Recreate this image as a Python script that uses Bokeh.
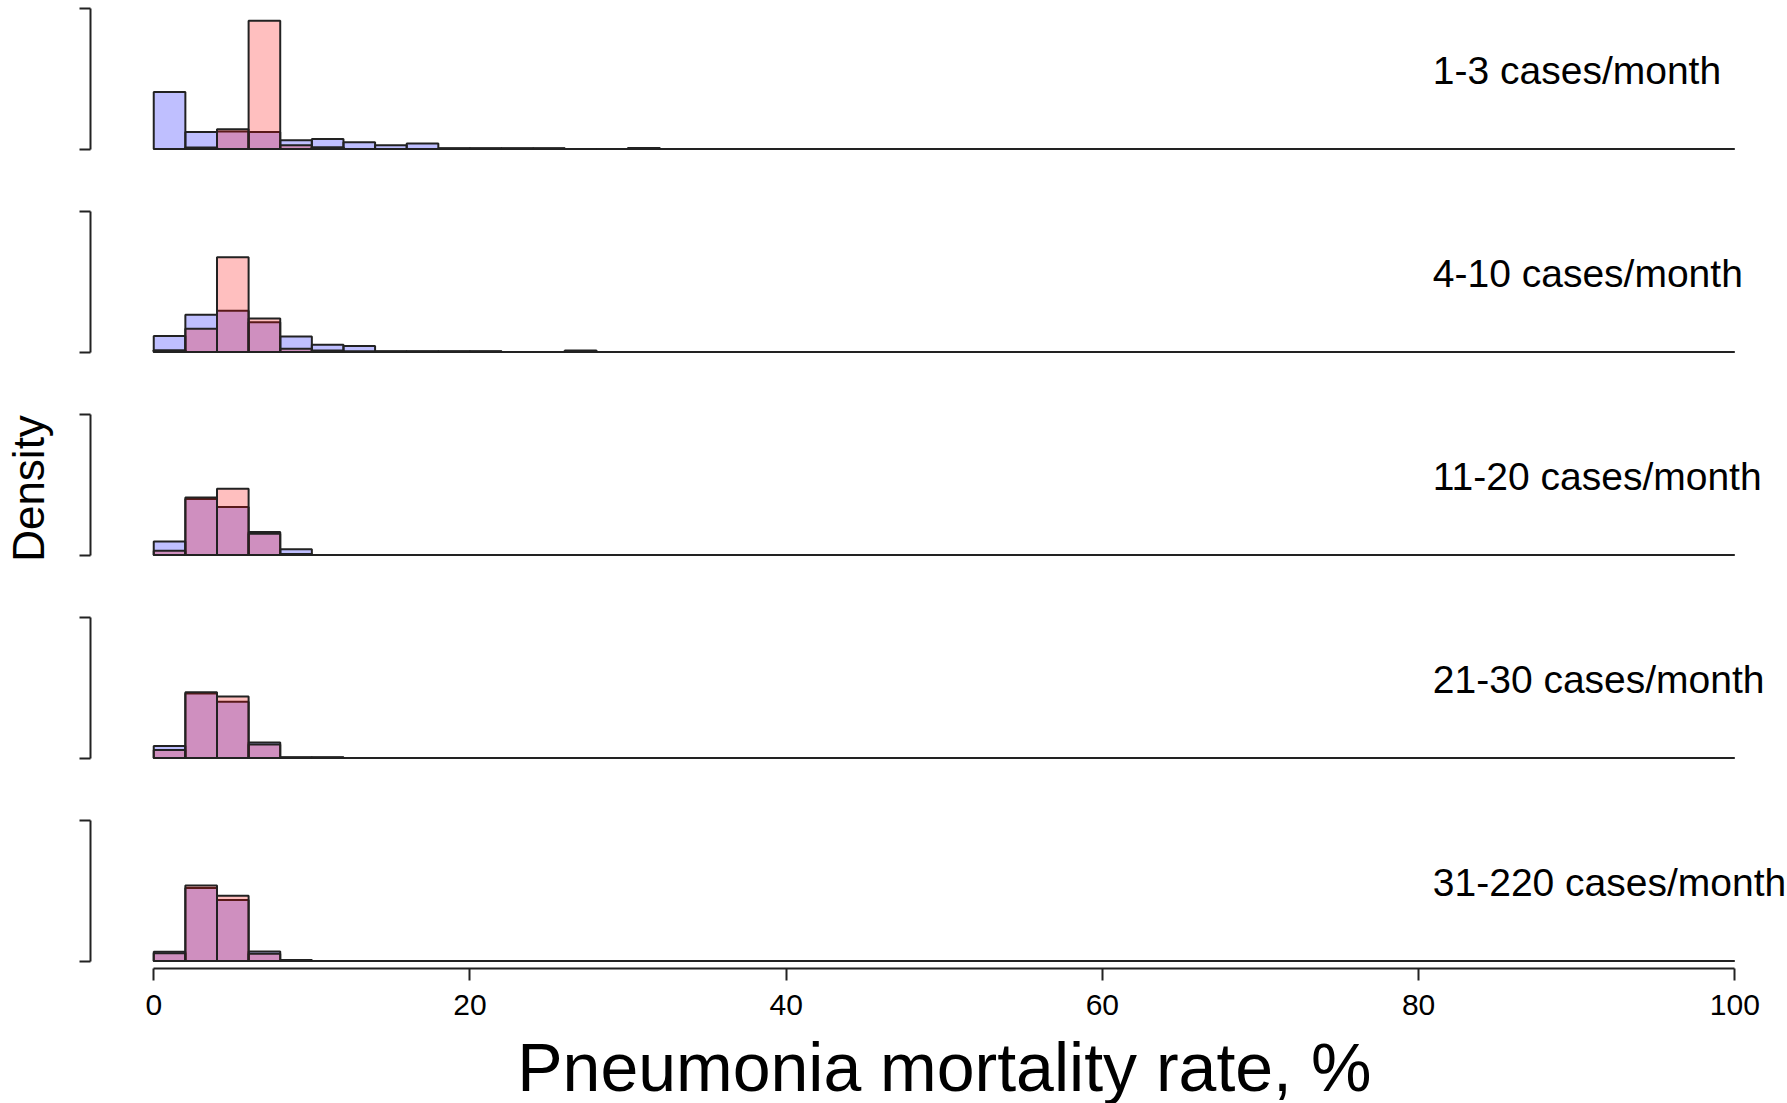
from bokeh.plotting import figure
from bokeh.models import Range1d, LinearAxis, FixedTicker
from bokeh.layouts import column
from bokeh.embed import file_html
from bokeh.resources import INLINE
from bokeh.core.properties import value

# ---------------- data ----------------
bin_edges = list(range(0, 101, 2))          # histogram breaks, 0..100 step 2
x_ticks = [0, 20, 40, 60, 80, 100]
x_title = "Pneumonia mortality rate, %"
y_title = "Density"
panel_labels = ["1-3 cases/month", "4-10 cases/month", "11-20 cases/month",
                "21-30 cases/month", "31-220 cases/month"]

# densities per 2-point bin, starting at bin 0-2 (remaining bins are empty)
blue_1 = [0.187, 0.056, 0.0575, 0.056, 0.029, 0.033, 0.0225, 0.012, 0.018,
          0.0023, 0.0023, 0.0023, 0.0023, 0.0, 0.0, 0.003]
pink_1 = [0.0, 0.0046, 0.065, 0.42, 0.012, 0.0055, 0.0, 0.0, 0.0,
          0.002, 0.002, 0.002, 0.002, 0.0, 0.0, 0.003]
blue_2 = [0.052, 0.122, 0.135, 0.0975, 0.051, 0.024, 0.0193, 0.0023,
          0.0023, 0.0023, 0.0023, 0.0, 0.0, 0.0046]
pink_2 = [0.0055, 0.076, 0.31, 0.11, 0.011, 0.0046, 0.0023, 0.002,
          0.002, 0.002, 0.002, 0.0, 0.0, 0.0]
blue_3 = [0.044, 0.183, 0.157, 0.075, 0.019]
pink_3 = [0.014, 0.188, 0.217, 0.0695, 0.003]
blue_4 = [0.039, 0.211, 0.184, 0.0506, 0.0023, 0.0023]
pink_4 = [0.026, 0.215, 0.201, 0.044, 0.002, 0.002]
blue_5 = [0.030, 0.239, 0.200, 0.031, 0.003]
pink_5 = [0.025, 0.247, 0.214, 0.024, 0.002]

blue_series = [blue_1, blue_2, blue_3, blue_4, blue_5]
pink_series = [pink_1, pink_2, pink_3, pink_4, pink_5]
y_top = 0.46   # top of each panel's density axis

# ---------------- layout constants ----------------
FONT = "Liberation Sans"
W = 1787
LEFT = 89
PX_PER_UNIT = 15.82          # horizontal pixels per % point
X_START = -4
X_END = X_START + (W - LEFT) / PX_PER_UNIT
BRACKET_PX = 140.5
BELOW_PX = 7.5
FRAME_PX = 148
TOP_PX = 8
PANEL_H = 203
TOTAL_H = 1103
AXIS_BORDER = 62
LINE = "#222222"

def ypx(px):
    return px * y_top / BRACKET_PX

x_range = Range1d(X_START, X_END)

figs = []
for k in range(5):
    last = (k == 4)
    h = TOP_PX + FRAME_PX + AXIS_BORDER if last else PANEL_H
    p = figure(width=W, height=h,
               x_range=x_range,
               y_range=Range1d(-ypx(BELOW_PX), y_top),
               output_backend="svg", toolbar_location=None,
               x_axis_type=None, y_axis_type=None,
               min_border_left=LEFT, min_border_right=0,
               min_border_top=TOP_PX, min_border_bottom=h - TOP_PX - FRAME_PX)
    p.outline_line_color = None
    p.xgrid.visible = False
    p.ygrid.visible = False
    p.background_fill_color = "white"
    p.border_fill_color = "white"

    # bracket-style density axis: only end ticks, no labels
    yax = LinearAxis(ticker=FixedTicker(ticks=[], minor_ticks=[0, y_top]),
                     bounds=(0, y_top),
                     major_tick_out=11, major_tick_in=0,
                     minor_tick_out=11, minor_tick_in=0,
                     major_label_standoff=0,
                     axis_line_width=2, minor_tick_line_width=2,
                     axis_line_color=LINE, minor_tick_line_color=LINE)
    if k == 2:
        yax.axis_label = y_title
        yax.axis_label_text_font = FONT
        yax.axis_label_text_font_size = "44px"
        yax.axis_label_text_font_style = "normal"
        yax.axis_label_text_color = "black"
        yax.axis_label_standoff = 27
    p.add_layout(yax, "left")

    # baseline across all histogram bins
    p.line(x=[bin_edges[0], bin_edges[-1]], y=[0, 0], line_color=LINE,
           line_width=2)

    b = blue_series[k]
    p.quad(left=bin_edges[:len(b)], right=bin_edges[1:len(b) + 1],
           bottom=0, top=b, fill_color="#0000FF", fill_alpha=0.25,
           line_color=LINE, line_width=2)
    r = pink_series[k]
    p.quad(left=bin_edges[:len(r)], right=bin_edges[1:len(r) + 1],
           bottom=0, top=r, fill_color="#FF0000", fill_alpha=0.25,
           line_color=LINE, line_width=2)

    p.text(x=[80.9], y=[ypx(79)], text=[panel_labels[k]],
           text_font=value(FONT), text_font_size="39px",
           text_align="left", text_baseline="alphabetic", text_color="black")

    if last:
        xax = LinearAxis(ticker=FixedTicker(ticks=x_ticks), bounds=(0, 100),
                         major_tick_out=12, major_tick_in=0,
                         minor_tick_out=0, minor_tick_in=0,
                         major_label_text_font=FONT,
                         major_label_text_font_size="30px",
                         major_label_text_color="black",
                         major_label_standoff=14,
                         axis_line_width=2, major_tick_line_width=2,
                         axis_line_color=LINE, major_tick_line_color=LINE)
        p.add_layout(xax, "below")
    figs.append(p)

# strip holding the x-axis title (cut at the page bottom like the original)
used = 4 * PANEL_H + TOP_PX + FRAME_PX + AXIS_BORDER
title_h = TOTAL_H - used
t = figure(width=W, height=title_h, x_range=x_range,
           y_range=Range1d(0, title_h),
           output_backend="svg", toolbar_location=None,
           x_axis_type=None, y_axis_type=None,
           min_border_left=0, min_border_right=0,
           min_border_top=0, min_border_bottom=0)
t.outline_line_color = None
t.xgrid.visible = False
t.ygrid.visible = False
t.text(x=[50], y=[title_h - 36], text=[x_title],
       text_font=value(FONT), text_font_size="68px",
       text_align="center", text_baseline="alphabetic", text_color="black")
figs.append(t)

layout = column(*figs, spacing=0)
open("out.html", "w").write(file_html(layout, INLINE))
